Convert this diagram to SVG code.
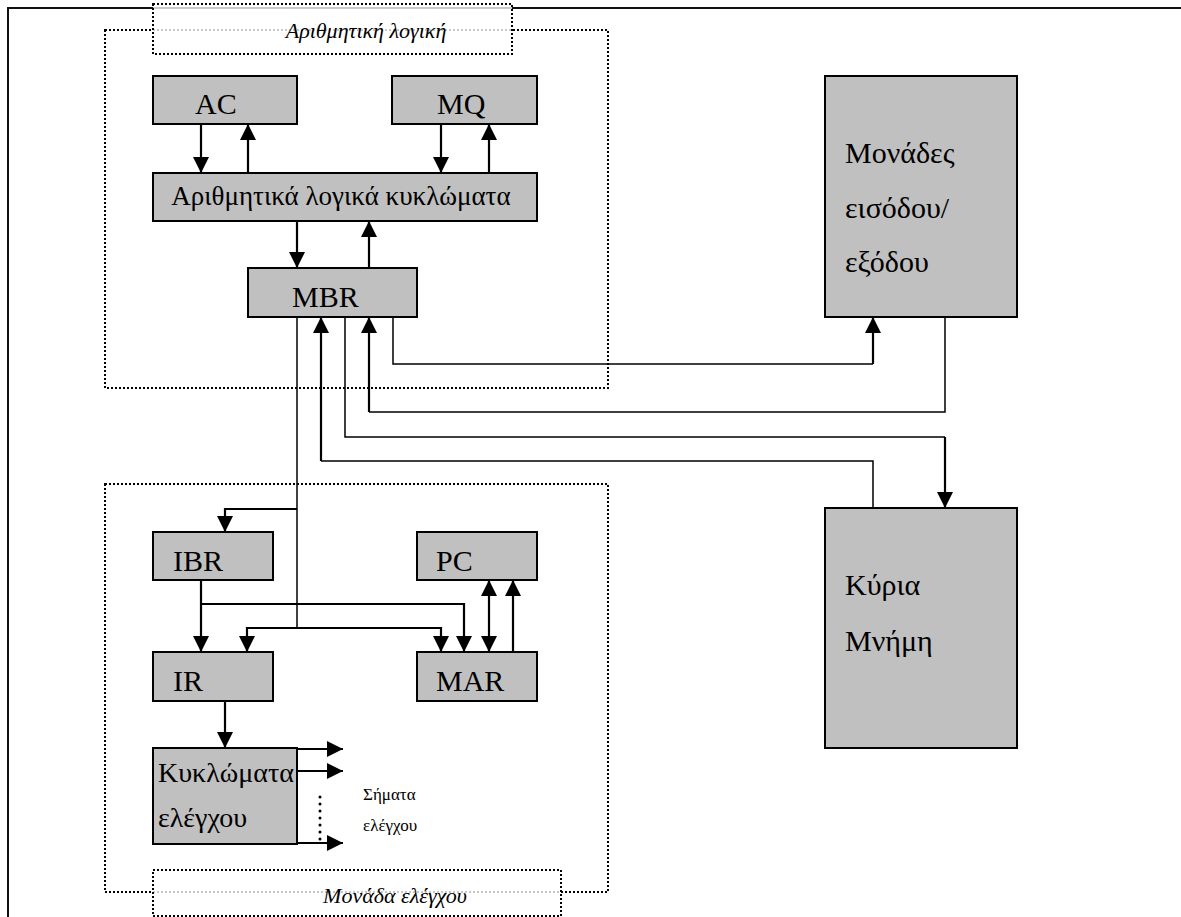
<svg xmlns="http://www.w3.org/2000/svg" width="1181" height="917" viewBox="0 0 1181 917">
  <style>
    text { font-family: "Liberation Serif", "Times New Roman", "DejaVu Serif", serif; fill: #000; }
    .box { fill: #c0c0c0; stroke: #000; stroke-width: 2; }
    .big { font-size: 30px; }
    .mid { font-size: 27px; }
    .txt { font-size: 28px; }
    .small { font-size: 17px; }
    .label { font-size: 22px; font-style: italic; }
    .dotted { fill: none; stroke: #000; stroke-width: 2; stroke-dasharray: 2 2; }
    .tag { fill: #fff; fill-opacity: 0.78; stroke: #000; stroke-width: 2; stroke-dasharray: 2 2; }
    .arr { fill: none; stroke: #000; stroke-width: 2.2; }
    .thin { fill: none; stroke: #000; stroke-width: 1.5; }
  </style>
  <defs>
    <marker id="head" viewBox="0 0 16 16" refX="16" refY="8" markerWidth="16" markerHeight="16" markerUnits="userSpaceOnUse" orient="auto-start-reverse">
      <path d="M0,0 L16,8 L0,16 Z" fill="#000"/>
    </marker>
  </defs>
  <rect width="1181" height="917" fill="#fff"/>

  <!-- page frame -->
  <path d="M8,917 V8 H1181" fill="none" stroke="#111" stroke-width="2"/>

  <!-- unit outlines -->
  <rect id="alu-unit" class="dotted" x="105" y="30" width="503" height="358"/>
  <rect id="control-unit" class="dotted" x="105" y="484" width="503" height="408"/>

  <!-- connectors -->
  <g id="connectors">
    <path class="arr" d="M201,124 V173" marker-end="url(#head)"/>
    <path class="arr" d="M248,173 V124" marker-end="url(#head)"/>
    <path class="arr" d="M441,124 V173" marker-end="url(#head)"/>
    <path class="arr" d="M489,173 V124" marker-end="url(#head)"/>
    <path class="arr" d="M297,221 V268" marker-end="url(#head)"/>
    <path class="arr" d="M369,268 V221" marker-end="url(#head)"/>

    <!-- MBR to input/output -->
    <path class="thin" d="M393,317 V364 H873"/>
    <path class="arr" d="M873,364 V317" marker-end="url(#head)"/>
    <!-- input/output to MBR -->
    <path class="thin" d="M945,317 V412 H369"/>
    <path class="arr" d="M369,412 V317" marker-end="url(#head)"/>
    <!-- MBR to memory -->
    <path class="thin" d="M345,317 V437 H945"/>
    <path class="arr" d="M945,437 V508" marker-end="url(#head)"/>
    <!-- memory to MBR -->
    <path class="thin" d="M873,508 V461 H321"/>
    <path class="arr" d="M321,461 V317" marker-end="url(#head)"/>

    <!-- MBR bus into control unit -->
    <path class="thin" d="M297,317 V628"/>
    <path class="arr" d="M297,509 H225 V532" marker-end="url(#head)"/>
    <path class="arr" d="M297,628 H247 V652" marker-end="url(#head)"/>
    <path class="arr" d="M297,628 H441 V652" marker-end="url(#head)"/>

    <!-- IBR to IR and MAR -->
    <path class="arr" d="M201,580 V652" marker-end="url(#head)"/>
    <path class="arr" d="M201,604 H464 V652" marker-end="url(#head)"/>

    <!-- PC / MAR -->
    <path class="arr" d="M489,580 V652" marker-start="url(#head)" marker-end="url(#head)"/>
    <path class="arr" d="M513,652 V580" marker-end="url(#head)"/>

    <!-- IR to control circuits -->
    <path class="arr" d="M225,701 V748" marker-end="url(#head)"/>

    <!-- control signals -->
    <path class="arr" d="M297,749 H343" marker-end="url(#head)"/>
    <path class="arr" d="M297,771 H343" marker-end="url(#head)"/>
    <path class="arr" d="M297,843 H343" marker-end="url(#head)"/>
    <path d="M320,797 V840" fill="none" stroke="#000" stroke-width="3" stroke-linecap="round" stroke-dasharray="0 7"/>
  </g>

  <!-- arithmetic-logic unit -->
  <g id="ac">
    <rect class="box" x="153" y="76" width="144" height="48"/>
    <text class="big" x="195" y="114">AC</text>
  </g>
  <g id="mq">
    <rect class="box" x="392" y="76" width="145" height="48"/>
    <text class="big" x="437" y="114">MQ</text>
  </g>
  <g id="alu">
    <rect class="box" x="153" y="173" width="384" height="48"/>
    <text class="mid" x="341" y="205" text-anchor="middle">Αριθμητικά λογικά κυκλώματα</text>
  </g>
  <g id="mbr">
    <rect class="box" x="248" y="268" width="169" height="49"/>
    <text class="big" x="292" y="307">MBR</text>
  </g>

  <!-- control unit -->
  <g id="ibr">
    <rect class="box" x="153" y="532" width="120" height="48"/>
    <text class="big" x="173" y="571">IBR</text>
  </g>
  <g id="pc">
    <rect class="box" x="417" y="532" width="120" height="48"/>
    <text class="big" x="436" y="571">PC</text>
  </g>
  <g id="ir">
    <rect class="box" x="153" y="652" width="120" height="49"/>
    <text class="big" x="173" y="691">IR</text>
  </g>
  <g id="mar">
    <rect class="box" x="417" y="652" width="120" height="49"/>
    <text class="big" x="436" y="691">MAR</text>
  </g>
  <g id="control-circuits">
    <rect class="box" x="153" y="748" width="144" height="96"/>
    <text class="txt" x="158" y="782">Κυκλώματα</text>
    <text class="txt" x="158" y="827">ελέγχου</text>
  </g>
  <g id="signals">
    <text class="small" x="363" y="800">Σήματα</text>
    <text class="small" x="363" y="831">ελέγχου</text>
  </g>

  <!-- peripherals -->
  <g id="io">
    <rect class="box" x="825" y="76" width="192" height="241"/>
    <text class="big" x="845" y="163">Μονάδες</text>
    <text class="big" x="845" y="218">εισόδου/</text>
    <text class="big" x="845" y="272">εξόδου</text>
  </g>
  <g id="memory">
    <rect class="box" x="825" y="508" width="192" height="240"/>
    <text class="big" x="845" y="595">Κύρια</text>
    <text class="big" x="845" y="651">Μνήμη</text>
  </g>

  <!-- unit captions -->
  <g id="alu-caption">
    <rect class="tag" x="153" y="4" width="359" height="50"/>
    <text class="label" x="366" y="38" text-anchor="middle">Αριθμητική λογική</text>
  </g>
  <g id="control-caption">
    <rect class="tag" x="153" y="870" width="408" height="46"/>
    <text class="label" x="395" y="903" text-anchor="middle">Μονάδα ελέγχου</text>
  </g>
</svg>
